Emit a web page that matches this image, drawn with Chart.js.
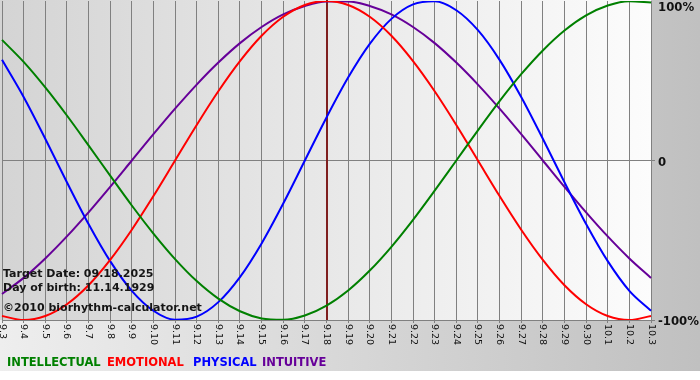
<!DOCTYPE html>
<html><head><meta charset="utf-8">
<script src="https://cdn.jsdelivr.net/npm/chart.js@4.4.0/dist/chart.umd.min.js"></script>
<style>html,body{margin:0;padding:0;background:#fff;overflow:hidden}</style>
</head><body><canvas id="c" width="700" height="380"></canvas>
<script>
const days = ['9.3','9.4','9.5','9.6','9.7','9.8','9.9','9.10','9.11','9.12','9.13','9.14','9.15','9.16','9.17','9.18','9.19','9.20','9.21','9.22','9.23','9.24','9.25','9.26','9.27','9.28','9.29','9.30','10.1','10.2','10.3'];
const intellectual = [75.6, 61.8, 45.8, 28.2, 9.5, -9.5, -28.2, -45.8, -61.8, -75.6, -86.6, -94.5, -99.0, -99.9, -97.2, -91.0, -81.5, -69.0, -54.1, -37.2, -18.9, 0, 18.9, 37.2, 54.1, 69.0, 81.5, 91.0, 97.2, 99.9, 99.0];
const emotional = [-97.5, -100, -97.5, -90.1, -78.2, -62.3, -43.4, -22.3, 0, 22.3, 43.4, 62.3, 78.2, 90.1, 97.5, 100, 97.5, 90.1, 78.2, 62.3, 43.4, 22.3, 0, -22.3, -43.4, -62.3, -78.2, -90.1, -97.5, -100, -97.5];
const physical = [63.1, 39.8, 13.6, -13.6, -39.8, -63.1, -81.7, -94.2, -99.8, -97.9, -88.8, -73.1, -52.0, -27.0, 0, 27.0, 52.0, 73.1, 88.8, 97.9, 99.8, 94.2, 81.7, 63.1, 39.8, 13.6, -13.6, -39.8, -63.1, -81.7, -94.2];
const intuitive = [-83.7, -73.6, -61.4, -47.6, -32.5, -16.5, 0, 16.5, 32.5, 47.6, 61.4, 73.6, 83.7, 91.6, 96.9, 99.7, 99.7, 96.9, 91.6, 83.7, 73.6, 61.4, 47.6, 32.5, 16.5, 0, -16.5, -32.5, -47.6, -61.4, -73.6];
const seriesNames = ['INTELLECTUAL','EMOTIONAL','PHYSICAL','INTUITIVE'];
const seriesColors = ['#008000','#ff0000','#0000ff','#660099'];
const yTicks = [-100, 0, 100];
const yTickLabels = ['-100%', '0', '100%'];
const targetDay = '9.18';
const infoLines = ['Target Date: 09.18.2025', 'Day of birth: 11.14.1929', '\u00a92010 biorhythm-calculator.net'];

const FONT = '"DejaVu Sans", Verdana, sans-serif';

const decor = {
  id: 'decor',
  beforeDraw(chart) {
    const {ctx, chartArea: a, width, height} = chart;
    ctx.save();
    let g = ctx.createLinearGradient(0, 0, width, 0);
    g.addColorStop(0, '#eeeeee');
    g.addColorStop(1, '#c0c0c0');
    ctx.fillStyle = g;
    ctx.fillRect(0, 0, width, 371);
    ctx.fillStyle = '#ffffff';
    ctx.fillRect(0, 371, width, height - 371);
    g = ctx.createLinearGradient(a.left, 0, a.right, 0);
    g.addColorStop(0, '#d4d4d4');
    g.addColorStop(1, '#fcfcfc');
    ctx.fillStyle = g;
    ctx.fillRect(0, 0, a.right, a.bottom);
    ctx.restore();
  },
  beforeDatasetsDraw(chart) {
    const {ctx, chartArea: a, scales: {x}} = chart;
    const px = Math.round(x.getPixelForValue(days.indexOf(targetDay)));
    ctx.save();
    ctx.fillStyle = '#7f1f1f';
    ctx.fillRect(px - 1, a.top - 1, 2, a.bottom - a.top + 1);
    ctx.restore();
  },
  afterDraw(chart) {
    const {ctx, chartArea: a, scales: {x, y}} = chart;
    ctx.save();
    ctx.fillStyle = '#111';
    ctx.font = '9.5px ' + FONT;
    ctx.textAlign = 'left';
    ctx.textBaseline = 'middle';
    days.forEach((d, i) => {
      const px = x.getPixelForTick(i);
      ctx.save();
      ctx.translate(px, a.bottom + 4);
      ctx.rotate(Math.PI / 2);
      ctx.fillText(d, 0, 0);
      ctx.restore();
    });
    ctx.font = 'bold 11.7px ' + FONT;
    ctx.fillStyle = '#111';
    yTicks.forEach((v, i) => {
      const py = Math.max(y.getPixelForValue(v) + 2, 8);
      ctx.fillText(yTickLabels[i], a.right + 7, py);
    });
    ctx.textBaseline = 'alphabetic';
    ctx.font = 'bold 11px ' + FONT;
    ctx.fillStyle = '#151515';
    const base = [277, 291, 311];
    infoLines.forEach((t, i) => ctx.fillText(t, 3, base[i]));
    ctx.font = 'bold 11.5px ' + FONT;
    const lx = [7, 107, 193, 262];
    seriesNames.forEach((n, i) => {
      ctx.fillStyle = seriesColors[i];
      ctx.fillText(n, lx[i], 366);
    });
    ctx.restore();
  }
};

const mk = (i, data) => ({
  label: seriesNames[i], data, borderColor: seriesColors[i], borderWidth: 2,
  pointRadius: 0, fill: false, cubicInterpolationMode: 'monotone'
});

new Chart(document.getElementById('c'), {
  type: 'line',
  data: {
    labels: days,
    datasets: [mk(0, intellectual), mk(1, emotional), mk(2, physical), mk(3, intuitive)]
  },
  options: {
    responsive: false,
    animation: false,
    layout: {padding: {left: 2, top: 1, right: 0, bottom: 0}},
    plugins: {legend: {display: false}, tooltip: {enabled: false}},
    scales: {
      x: {
        type: 'category', offset: false,
        afterFit: s => { s.height = 60; },
        ticks: {display: false, autoSkip: false},
        grid: {color: '#808080', lineWidth: 1, drawTicks: true, tickLength: 3},
        border: {display: true, color: '#808080'}
      },
      y: {
        position: 'right', min: -100, max: 100,
        afterFit: s => { s.width = 49; },
        afterBuildTicks: s => { s.ticks = yTicks.map(v => ({value: v})); },
        ticks: {display: false},
        grid: {color: c => (c.tick && c.tick.value === 100) ? 'rgba(0,0,0,0)' : '#808080', lineWidth: 1, drawTicks: true, tickLength: 4},
        border: {display: true, color: '#808080'}
      }
    }
  },
  plugins: [decor]
});
</script>
</body></html>
